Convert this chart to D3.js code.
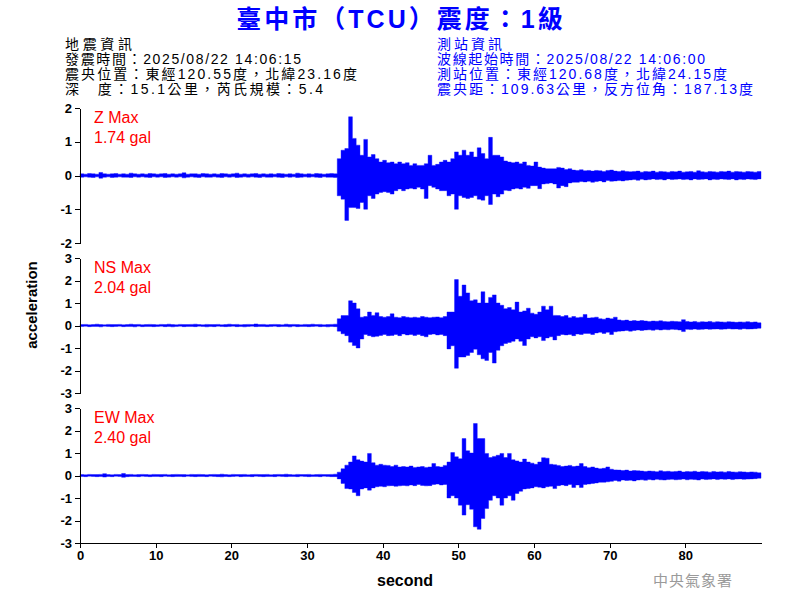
<!DOCTYPE html>
<html>
<head>
<meta charset="utf-8">
<script src="https://cdn.jsdelivr.net/npm/d3@7"></script>
<style>
  html, body { margin: 0; padding: 0; background: #fff; }
  svg { display: block; }
  .cjk { font-family: "Liberation Sans", Arial, "Noto Sans CJK TC", sans-serif; }
  .axis text { font-family: "Liberation Sans", Arial, sans-serif; font-weight: bold; font-size: 13px; fill: #000; }
  .axis path, .axis line { stroke: #000; stroke-width: 1; shape-rendering: crispEdges; }
</style>
</head>
<body>
<svg id="chart" width="800" height="600"></svg>
<script>
// ---------------- data ----------------
const titleText = "臺中市（TCU）震度：1級";
const quakeInfo = [
  "地震資訊",
  "發震時間：2025/08/22 14:06:15",
  "震央位置：東經120.55度，北緯23.16度",
  "深　度：15.1公里，芮氏規模：5.4"
];
const stationInfo = [
  "測站資訊",
  "波線起始時間：2025/08/22 14:06:00",
  "測站位置：東經120.68度，北緯24.15度",
  "震央距：109.63公里，反方位角：187.13度"
];
const channelNames = ["Z", "NS", "EW"];
const peakValues = [1.74, 2.04, 2.40];
const zTicks = [-2, -1, 0, 1, 2];
const nsTicks = [-3, -2, -1, 0, 1, 2, 3];
const ewTicks = [-3, -2, -1, 0, 1, 2, 3];
const xTicks = [0, 10, 20, 30, 40, 50, 60, 70, 80];
const timeStep = 0.5;   // seconds per envelope bin (bins start at 0 s)
const timeMax = 90;

// envelope (max / min acceleration per 0.5 s bin), read from the record
const zHi = [
 0.05,0.04,0.06,0.05,0.04,0.09,0.05,0.04,0.05,0.06,
 0.04,0.05,0.04,0.07,0.05,0.04,0.05,0.04,0.06,0.05,
 0.04,0.05,0.06,0.04,0.05,0.04,0.05,0.08,0.04,0.05,
 0.05,0.04,0.06,0.05,0.04,0.05,0.04,0.06,0.05,0.04,
 0.05,0.07,0.04,0.05,0.04,0.05,0.06,0.04,0.05,0.04,
 0.05,0.04,0.06,0.05,0.04,0.05,0.04,0.07,0.05,0.04,
 0.05,0.04,0.06,0.05,0.04,0.05,0.06,0.05,
 0.50,0.75,0.80,1.74,1.10,0.90,0.60,1.07,0.55,0.62,
 0.50,0.40,0.45,0.38,0.40,0.35,0.40,0.35,0.38,0.30,
 0.35,0.30,0.30,0.35,0.60,0.30,0.33,0.40,0.45,0.40,
 0.50,0.70,0.60,0.75,0.60,0.70,0.55,0.82,0.65,0.50,
 1.13,0.60,0.60,0.55,0.43,0.40,0.38,0.40,0.35,0.40,
 0.30,0.28,0.40,0.25,0.22,0.20,0.20,0.20,0.24,0.22,
 0.18,0.20,0.16,0.15,0.17,0.14,0.15,0.13,0.15,0.14,
 0.12,0.15,0.16,0.13,0.12,0.14,0.12,0.11,0.12,0.13,
 0.10,0.12,0.11,0.13,0.10,0.12,0.11,0.10,0.12,0.11,
 0.13,0.10,0.11,0.12,0.10,0.14,0.11,0.10,0.12,0.11,
 0.10,0.12,0.11,0.13,0.10,0.12,0.11,0.10,0.12,0.11,
 0.10,0.12
];
const zLo = [
 -0.05,-0.04,-0.05,-0.06,-0.04,-0.08,-0.05,-0.04,-0.06,-0.05,
 -0.04,-0.05,-0.05,-0.06,-0.04,-0.05,-0.04,-0.05,-0.06,-0.04,
 -0.05,-0.04,-0.06,-0.05,-0.04,-0.05,-0.04,-0.07,-0.05,-0.04,
 -0.05,-0.06,-0.04,-0.05,-0.05,-0.04,-0.05,-0.06,-0.04,-0.05,
 -0.04,-0.06,-0.05,-0.04,-0.05,-0.04,-0.05,-0.06,-0.04,-0.05,
 -0.05,-0.04,-0.05,-0.06,-0.04,-0.05,-0.04,-0.06,-0.05,-0.04,
 -0.05,-0.04,-0.05,-0.06,-0.04,-0.05,-0.05,-0.06,
 -0.60,-0.70,-1.33,-0.95,-0.95,-0.98,-0.80,-1.00,-0.60,-0.68,
 -0.55,-0.50,-0.48,-0.50,-0.55,-0.45,-0.40,-0.45,-0.40,-0.38,
 -0.40,-0.35,-0.40,-0.68,-0.30,-0.35,-0.40,-0.45,-0.45,-0.60,
 -0.55,-1.00,-0.60,-0.65,-0.68,-0.65,-0.60,-0.70,-0.73,-0.60,
 -0.86,-0.55,-0.63,-0.55,-0.44,-0.45,-0.40,-0.38,-0.40,-0.35,
 -0.38,-0.30,-0.30,-0.39,-0.25,-0.24,-0.22,-0.25,-0.37,-0.30,
 -0.33,-0.22,-0.20,-0.20,-0.18,-0.19,-0.17,-0.20,-0.18,-0.16,
 -0.19,-0.15,-0.17,-0.16,-0.15,-0.16,-0.14,-0.13,-0.12,-0.14,
 -0.11,-0.13,-0.12,-0.10,-0.12,-0.11,-0.13,-0.10,-0.12,-0.11,
 -0.10,-0.12,-0.11,-0.13,-0.10,-0.12,-0.11,-0.10,-0.13,-0.11,
 -0.12,-0.10,-0.11,-0.12,-0.10,-0.13,-0.11,-0.12,-0.10,-0.11,
 -0.12,-0.10
];
const nsHi = [
 0.04,0.05,0.03,0.04,0.06,0.04,0.03,0.05,0.04,0.04,
 0.05,0.03,0.04,0.06,0.04,0.05,0.03,0.04,0.05,0.04,
 0.03,0.05,0.04,0.06,0.04,0.03,0.05,0.04,0.04,0.05,
 0.06,0.04,0.03,0.05,0.04,0.04,0.05,0.03,0.04,0.06,
 0.04,0.05,0.03,0.04,0.05,0.04,0.07,0.04,0.05,0.03,
 0.04,0.05,0.04,0.03,0.06,0.04,0.05,0.04,0.03,0.05,
 0.04,0.06,0.04,0.05,0.03,0.04,0.05,0.06,
 0.30,0.44,0.44,1.10,1.00,0.74,0.37,0.40,0.60,0.45,
 0.57,0.40,0.37,0.40,0.52,0.37,0.35,0.40,0.37,0.35,
 0.37,0.35,0.40,0.37,0.35,0.37,0.38,0.35,0.40,0.60,
 0.60,2.04,1.30,1.80,1.45,1.10,1.14,1.00,1.50,1.00,
 1.25,1.36,1.00,0.90,0.75,0.80,0.70,1.04,0.60,0.65,
 0.77,0.55,0.50,0.60,0.86,0.70,0.86,0.45,0.44,0.40,
 0.44,0.35,0.40,0.35,0.37,0.49,0.33,0.35,0.37,0.30,
 0.28,0.33,0.30,0.37,0.25,0.22,0.24,0.20,0.22,0.20,
 0.22,0.20,0.18,0.20,0.19,0.21,0.18,0.17,0.19,0.18,
 0.17,0.26,0.18,0.16,0.18,0.15,0.17,0.16,0.18,0.15,
 0.17,0.16,0.15,0.17,0.16,0.14,0.16,0.15,0.17,0.14,
 0.16,0.12
];
const nsLo = [
 -0.04,-0.03,-0.05,-0.04,-0.04,-0.06,-0.03,-0.04,-0.05,-0.04,
 -0.03,-0.05,-0.04,-0.04,-0.06,-0.03,-0.05,-0.04,-0.04,-0.05,
 -0.04,-0.03,-0.05,-0.04,-0.06,-0.04,-0.03,-0.05,-0.04,-0.04,
 -0.05,-0.03,-0.04,-0.06,-0.04,-0.05,-0.03,-0.04,-0.05,-0.04,
 -0.03,-0.05,-0.04,-0.06,-0.04,-0.03,-0.05,-0.04,-0.04,-0.05,
 -0.04,-0.03,-0.05,-0.04,-0.04,-0.06,-0.03,-0.05,-0.04,-0.04,
 -0.05,-0.04,-0.03,-0.05,-0.04,-0.06,-0.04,-0.05,
 -0.25,-0.37,-0.45,-0.74,-0.89,-1.00,-0.60,-0.40,-0.45,-0.50,
 -0.48,-0.44,-0.40,-0.45,-0.44,-0.40,-0.45,-0.38,-0.42,-0.40,
 -0.44,-0.40,-0.45,-0.50,-0.40,-0.38,-0.42,-0.40,-0.45,-1.04,
 -0.90,-1.90,-1.40,-1.40,-1.33,-1.20,-1.05,-1.30,-1.48,-1.55,
 -1.20,-1.67,-1.10,-0.90,-0.80,-0.75,-0.70,-0.60,-0.70,-0.89,
 -0.60,-0.50,-0.55,-0.50,-0.67,-0.55,-0.50,-0.64,-0.45,-0.40,
 -0.42,-0.40,-0.45,-0.38,-0.40,-0.35,-0.35,-0.40,-0.33,-0.30,
 -0.35,-0.30,-0.40,-0.28,-0.25,-0.24,-0.22,-0.25,-0.22,-0.20,
 -0.22,-0.20,-0.19,-0.21,-0.18,-0.20,-0.18,-0.19,-0.17,-0.18,
 -0.20,-0.27,-0.17,-0.18,-0.16,-0.18,-0.17,-0.15,-0.17,-0.16,
 -0.15,-0.17,-0.16,-0.14,-0.16,-0.15,-0.17,-0.14,-0.16,-0.15,
 -0.14,-0.12
];
const ewHi = [
 0.04,0.03,0.05,0.04,0.04,0.05,0.08,0.04,0.03,0.05,
 0.04,0.09,0.04,0.05,0.03,0.04,0.05,0.04,0.03,0.05,
 0.04,0.04,0.05,0.03,0.04,0.05,0.04,0.04,0.03,0.05,
 0.04,0.05,0.04,0.03,0.04,0.05,0.04,0.06,0.04,0.03,
 0.05,0.04,0.04,0.05,0.03,0.04,0.05,0.04,0.04,0.05,
 0.03,0.04,0.05,0.04,0.06,0.04,0.03,0.05,0.04,0.04,
 0.05,0.03,0.04,0.05,0.04,0.04,0.05,0.06,
 0.15,0.30,0.46,0.60,0.87,0.70,0.64,0.60,0.98,0.57,
 0.46,0.50,0.46,0.45,0.40,0.46,0.38,0.40,0.38,0.42,
 0.36,0.38,0.40,0.36,0.38,0.53,0.40,0.38,0.45,0.60,
 1.02,0.83,0.75,1.64,1.10,1.00,2.31,1.64,1.64,0.98,
 0.80,0.85,0.90,0.98,0.80,0.98,0.70,0.65,0.60,0.73,
 0.60,0.55,0.50,0.60,0.79,0.77,0.50,0.48,0.45,0.40,
 0.42,0.45,0.40,0.42,0.53,0.40,0.35,0.38,0.33,0.30,
 0.32,0.38,0.28,0.25,0.24,0.22,0.24,0.20,0.22,0.21,
 0.20,0.18,0.20,0.19,0.17,0.21,0.18,0.19,0.17,0.18,
 0.20,0.16,0.18,0.17,0.19,0.16,0.18,0.17,0.15,0.18,
 0.16,0.17,0.15,0.18,0.16,0.15,0.17,0.16,0.14,0.16,
 0.15,0.12
];
const ewLo = [
 -0.04,-0.05,-0.03,-0.04,-0.05,-0.04,-0.07,-0.04,-0.05,-0.03,
 -0.04,-0.08,-0.05,-0.04,-0.04,-0.05,-0.03,-0.04,-0.05,-0.04,
 -0.04,-0.05,-0.03,-0.04,-0.05,-0.04,-0.04,-0.05,-0.03,-0.04,
 -0.05,-0.04,-0.04,-0.05,-0.03,-0.04,-0.05,-0.06,-0.04,-0.05,
 -0.04,-0.03,-0.05,-0.04,-0.04,-0.05,-0.03,-0.04,-0.05,-0.04,
 -0.04,-0.05,-0.03,-0.04,-0.05,-0.04,-0.04,-0.05,-0.03,-0.04,
 -0.05,-0.04,-0.04,-0.05,-0.03,-0.04,-0.05,-0.05,
 -0.15,-0.35,-0.58,-0.60,-0.75,-0.90,-0.60,-0.55,-0.65,-0.55,
 -0.50,-0.48,-0.50,-0.46,-0.45,-0.48,-0.46,-0.44,-0.46,-0.42,
 -0.45,-0.40,-0.44,-0.46,-0.45,-0.40,-0.38,-0.42,-0.40,-1.00,
 -0.90,-1.00,-1.32,-1.76,-1.30,-1.50,-2.28,-2.39,-1.91,-1.47,
 -1.10,-0.90,-1.00,-1.32,-1.00,-0.90,-1.10,-0.80,-0.70,-0.60,
 -0.58,-0.55,-0.50,-0.52,-0.55,-0.50,-0.48,-0.58,-0.45,-0.42,
 -0.45,-0.40,-0.53,-0.42,-0.53,-0.40,-0.38,-0.35,-0.33,-0.30,
 -0.30,-0.28,-0.26,-0.22,-0.25,-0.20,-0.22,-0.21,-0.24,-0.20,
 -0.19,-0.21,-0.18,-0.20,-0.17,-0.19,-0.20,-0.18,-0.17,-0.19,
 -0.18,-0.16,-0.19,-0.17,-0.18,-0.20,-0.16,-0.18,-0.17,-0.15,
 -0.18,-0.16,-0.17,-0.15,-0.18,-0.16,-0.15,-0.17,-0.16,-0.15,
 -0.14,-0.12
];

// ---------------- drawing ----------------
const svg = d3.select("#chart");
svg.append("rect").attr("width", 800).attr("height", 600).attr("fill", "#fff");

// title
svg.append("text")
  .attr("x", 401).attr("y", 28)
  .attr("text-anchor", "middle")
  .attr("class", "cjk")
  .style("font-size", "25px").style("font-weight", "bold")
  .style("letter-spacing", "3px")
  .attr("fill", "#0000ff")
  .text(titleText);

// header blocks
const leftWidths = [67, 236, 292, 258];
const rightWidths = [65, 268, 290, 316];
quakeInfo.forEach((s, i) => {
  svg.append("text").attr("class", "cjk")
    .attr("x", 65).attr("y", 49 + i * 15)
    .attr("textLength", leftWidths[i]).attr("lengthAdjust", "spacing")
    .style("font-size", "14px").attr("fill", "#000").text(s);
});
stationInfo.forEach((s, i) => {
  svg.append("text").attr("class", "cjk")
    .attr("x", 437).attr("y", 49 + i * 15)
    .attr("textLength", rightWidths[i]).attr("lengthAdjust", "spacing")
    .style("font-size", "14px").attr("fill", "#0000ff").text(s);
});

const x = d3.scaleLinear().domain([0, timeMax]).range([80, 761]);

const panels = [
  { hi: zHi, lo: zLo, ticks: zTicks, top: 108, bottom: 243 },
  { hi: nsHi, lo: nsLo, ticks: nsTicks, top: 258, bottom: 393 },
  { hi: ewHi, lo: ewLo, ticks: ewTicks, top: 408, bottom: 543 }
];

panels.forEach((p, k) => {
  const y = d3.scaleLinear()
    .domain([d3.min(p.ticks), d3.max(p.ticks)])
    .range([p.bottom, p.top]);

  // waveform envelope per bin: filled band between bin min and max
  const bins = p.hi.map((h, i) => ({ t: i * timeStep, hi: h, lo: p.lo[i] }));
  bins.push({ t: bins.length * timeStep, hi: p.hi[p.hi.length - 1], lo: p.lo[p.lo.length - 1] });
  const area = d3.area()
    .curve(d3.curveStepAfter)
    .x(d => x(d.t))
    .y0(d => y(d.lo))
    .y1(d => y(d.hi));
  svg.append("path")
    .datum(bins)
    .attr("d", area)
    .attr("fill", "#0000ff")
    .attr("stroke", "#0000ff")
    .attr("stroke-width", 0.4);

  // y axis
  svg.append("g")
    .attr("class", "axis")
    .attr("transform", "translate(80,0)")
    .call(d3.axisLeft(y).tickValues(p.ticks).tickSize(5).tickSizeOuter(0).tickPadding(3)
      .tickFormat(d => String(d)));

  // peak labels
  svg.append("text")
    .attr("x", 94).attr("y", p.top + 15)
    .style("font-family", "'Liberation Sans', Arial, sans-serif").style("font-size", "16px")
    .attr("fill", "#ff0000")
    .text(channelNames[k] + " Max");
  svg.append("text")
    .attr("x", 94).attr("y", p.top + 35)
    .style("font-family", "'Liberation Sans', Arial, sans-serif").style("font-size", "16px")
    .attr("fill", "#ff0000")
    .text(peakValues[k].toFixed(2) + " gal");
});

// x axis
svg.append("g")
  .attr("class", "axis")
  .attr("transform", "translate(0,543)")
  .call(d3.axisBottom(x).tickValues(xTicks).tickSize(5).tickSizeOuter(0).tickPadding(3)
    .tickFormat(d => String(d)));

// axis titles
svg.append("text")
  .attr("x", 405).attr("y", 586)
  .attr("text-anchor", "middle")
  .style("font-family", "'Liberation Sans', Arial, sans-serif")
  .style("font-size", "16px").style("font-weight", "bold")
  .text("second");
svg.append("text")
  .attr("transform", "translate(37,305) rotate(-90)")
  .attr("text-anchor", "middle")
  .style("font-family", "'Liberation Sans', Arial, sans-serif")
  .style("font-size", "15px").style("font-weight", "bold")
  .text("acceleration");

// agency mark
svg.append("text")
  .attr("x", 693).attr("y", 586)
  .attr("text-anchor", "middle")
  .attr("class", "cjk")
  .style("font-size", "15px").style("letter-spacing", "1px")
  .attr("fill", "#9a9a9a")
  .text("中央氣象署");
</script>
</body>
</html>
